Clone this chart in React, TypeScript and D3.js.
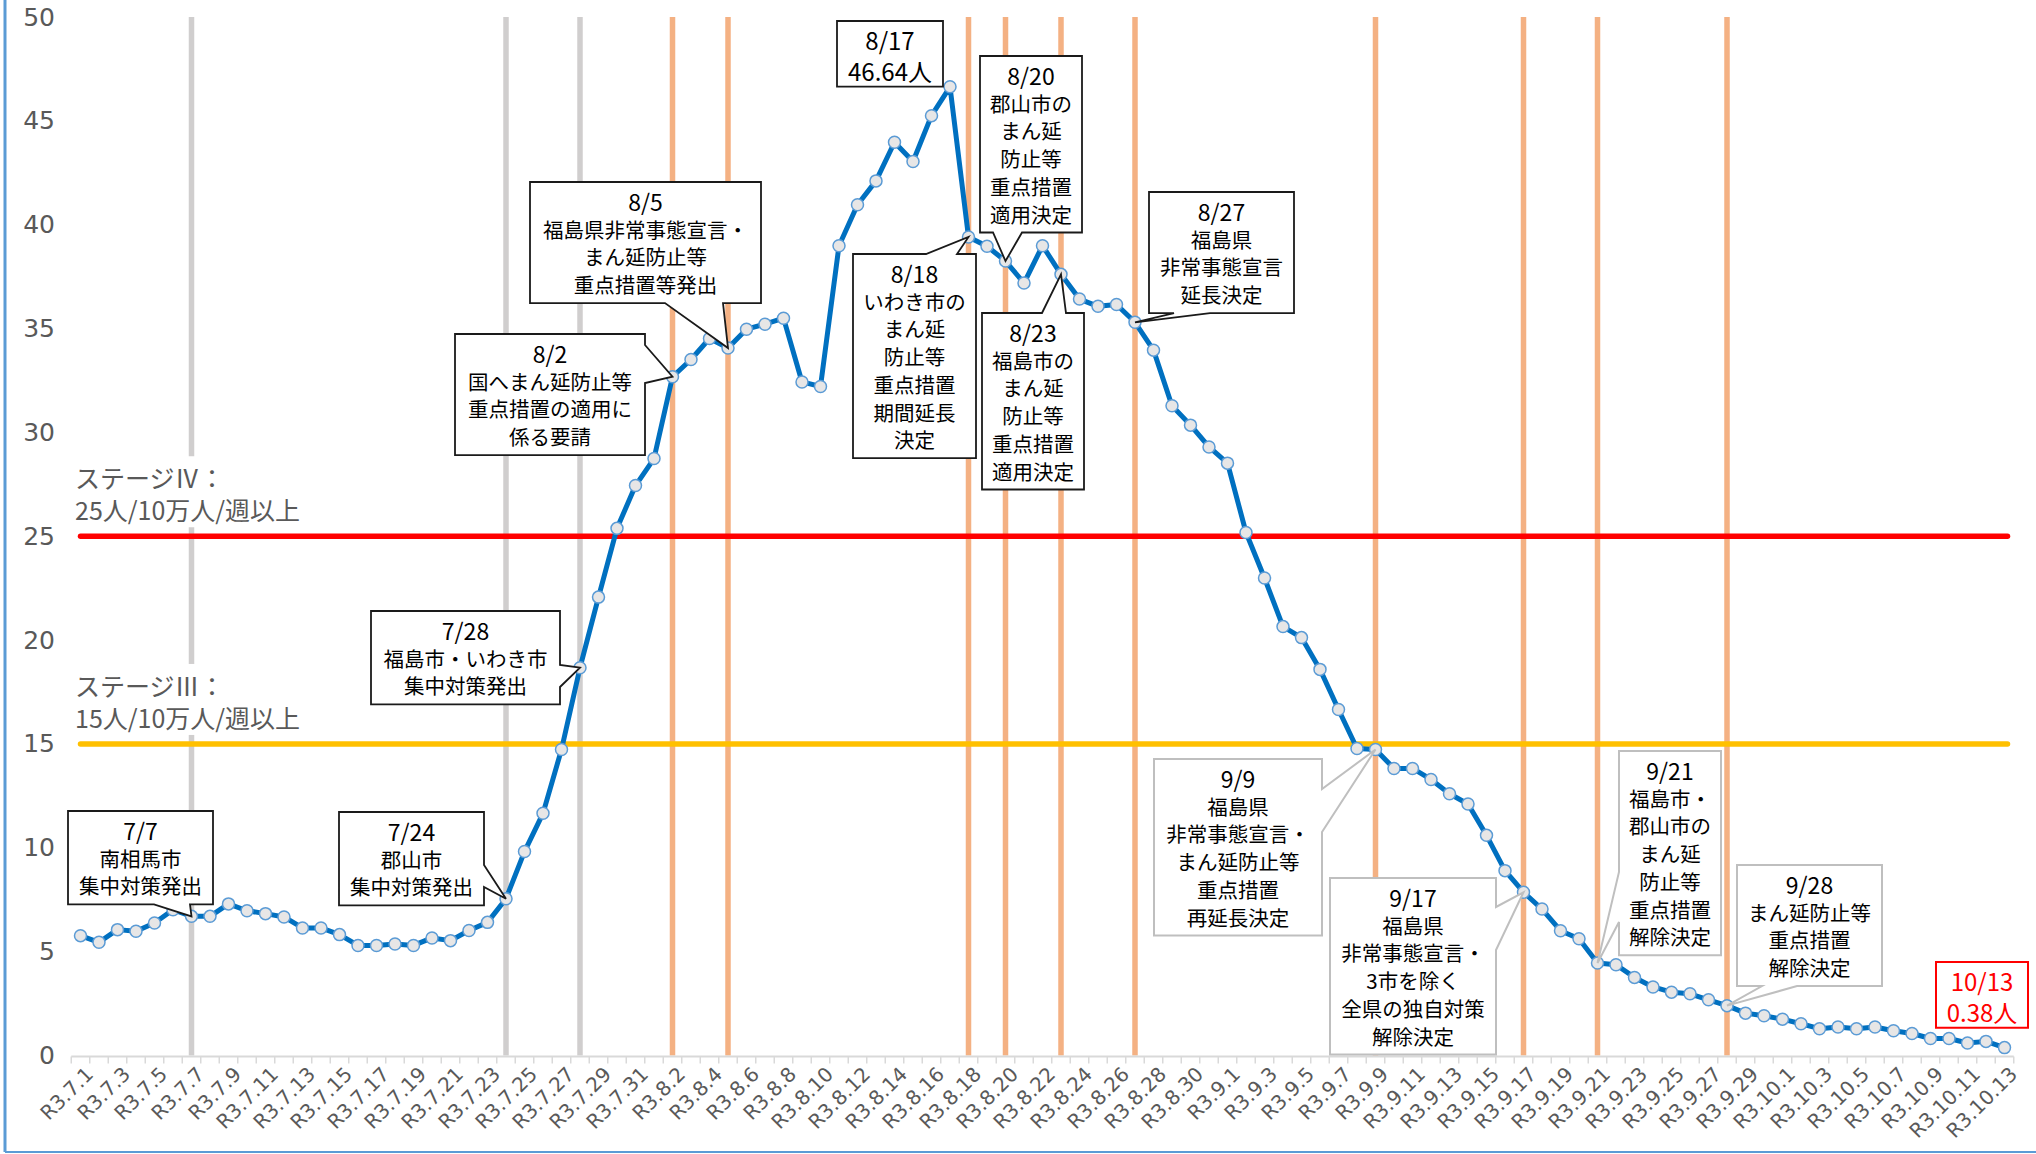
import React from 'react';
import * as d3 from 'd3';

// 7日間の人口10万人当たり新規陽性者数（福島県）
const dates = [
  'R3.7.1', 'R3.7.2', 'R3.7.3', 'R3.7.4', 'R3.7.5', 'R3.7.6', 'R3.7.7', 'R3.7.8', 'R3.7.9', 'R3.7.10',
  'R3.7.11', 'R3.7.12', 'R3.7.13', 'R3.7.14', 'R3.7.15', 'R3.7.16', 'R3.7.17', 'R3.7.18', 'R3.7.19', 'R3.7.20',
  'R3.7.21', 'R3.7.22', 'R3.7.23', 'R3.7.24', 'R3.7.25', 'R3.7.26', 'R3.7.27', 'R3.7.28', 'R3.7.29', 'R3.7.30',
  'R3.7.31', 'R3.8.1', 'R3.8.2', 'R3.8.3', 'R3.8.4', 'R3.8.5', 'R3.8.6', 'R3.8.7', 'R3.8.8', 'R3.8.9',
  'R3.8.10', 'R3.8.11', 'R3.8.12', 'R3.8.13', 'R3.8.14', 'R3.8.15', 'R3.8.16', 'R3.8.17', 'R3.8.18', 'R3.8.19',
  'R3.8.20', 'R3.8.21', 'R3.8.22', 'R3.8.23', 'R3.8.24', 'R3.8.25', 'R3.8.26', 'R3.8.27', 'R3.8.28', 'R3.8.29',
  'R3.8.30', 'R3.8.31', 'R3.9.1', 'R3.9.2', 'R3.9.3', 'R3.9.4', 'R3.9.5', 'R3.9.6', 'R3.9.7', 'R3.9.8',
  'R3.9.9', 'R3.9.10', 'R3.9.11', 'R3.9.12', 'R3.9.13', 'R3.9.14', 'R3.9.15', 'R3.9.16', 'R3.9.17', 'R3.9.18',
  'R3.9.19', 'R3.9.20', 'R3.9.21', 'R3.9.22', 'R3.9.23', 'R3.9.24', 'R3.9.25', 'R3.9.26', 'R3.9.27', 'R3.9.28',
  'R3.9.29', 'R3.9.30', 'R3.10.1', 'R3.10.2', 'R3.10.3', 'R3.10.4', 'R3.10.5', 'R3.10.6', 'R3.10.7', 'R3.10.8',
  'R3.10.9', 'R3.10.10', 'R3.10.11', 'R3.10.12', 'R3.10.13'
];

const values = [
  5.77, 5.45, 6.06, 5.98, 6.38, 7.02, 6.70, 6.70, 7.30, 6.97,
  6.83, 6.67, 6.14, 6.14, 5.82, 5.30, 5.30, 5.37, 5.30, 5.66,
  5.53, 6.02, 6.41, 7.55, 9.82, 11.66, 14.73, 18.67, 22.07, 25.38,
  27.44, 28.74, 32.68, 33.51, 34.52, 34.06, 34.97, 35.21, 35.50, 32.43,
  32.21, 38.99, 40.96, 42.11, 43.97, 43.04, 45.25, 46.64, 39.41, 38.96,
  38.25, 37.19, 38.99, 37.61, 36.42, 36.07, 36.16, 35.30, 33.96, 31.28,
  30.35, 29.30, 28.52, 25.18, 22.99, 20.65, 20.12, 18.59, 16.66, 14.78,
  14.73, 13.82, 13.82, 13.29, 12.60, 12.11, 10.60, 8.90, 7.86, 7.05,
  6.01, 5.62, 4.45, 4.37, 3.76, 3.30, 3.05, 2.97, 2.68, 2.40,
  2.04, 1.91, 1.75, 1.53, 1.29, 1.37, 1.29, 1.37, 1.19, 1.06,
  0.82, 0.82, 0.60, 0.68, 0.38
];

const yTicks = [0, 5, 10, 15, 20, 25, 30, 35, 40, 45, 50];

// 市の集中対策（灰）と県・国の措置（橙）
const cityEvents = ['R3.7.7', 'R3.7.24', 'R3.7.28'];
const prefEvents = ['R3.8.2', 'R3.8.5', 'R3.8.18', 'R3.8.20', 'R3.8.23', 'R3.8.27', 'R3.9.9', 'R3.9.17', 'R3.9.21', 'R3.9.28'];

const stageValues = [25, 15];
const stageNames = ['ステージⅣ：', 'ステージⅢ：'];
const stageCriteria = ['25人/10万人/週以上', '15人/10万人/週以上'];
const stageColors = ['#FF0000', '#FFC000'];

// 吹き出し：本文と配置（box = [左, 上, 右]、wedge = 辺上の根元の範囲）
type Side = 'top' | 'right' | 'bottom' | 'left' | null;
interface Callout {
  date: string;
  lines: string[];
  tone: 'black' | 'gray' | 'red';
  box: [number, number, number];
  side: Side;
  wedge?: [number, number];
  big?: boolean;
}

const callouts: Callout[] = [
  { date: 'R3.7.7', lines: ['7/7', '南相馬市', '集中対策発出'], tone: 'black', box: [68, 811, 213], side: 'bottom', wedge: [154, 190] },
  { date: 'R3.7.24', lines: ['7/24', '郡山市', '集中対策発出'], tone: 'black', box: [339, 812, 484], side: 'right', wedge: [865, 887] },
  { date: 'R3.7.28', lines: ['7/28', '福島市・いわき市', '集中対策発出'], tone: 'black', box: [371, 611, 560], side: 'right', wedge: [665, 687] },
  { date: 'R3.8.2', lines: ['8/2', '国へまん延防止等', '重点措置の適用に', '係る要請'], tone: 'black', box: [455, 334, 645], side: 'right', wedge: [345, 383] },
  { date: 'R3.8.5', lines: ['8/5', '福島県非常事態宣言・', 'まん延防止等', '重点措置等発出'], tone: 'black', box: [530, 182, 761], side: 'bottom', wedge: [665, 723] },
  { date: 'R3.8.17', lines: ['8/17', '46.64人'], tone: 'black', box: [837, 21, 943], side: null, big: true },
  { date: 'R3.8.18', lines: ['8/18', 'いわき市の', 'まん延', '防止等', '重点措置', '期間延長', '決定'], tone: 'black', box: [853, 254, 976], side: 'top', wedge: [926, 957] },
  { date: 'R3.8.20', lines: ['8/20', '郡山市の', 'まん延', '防止等', '重点措置', '適用決定'], tone: 'black', box: [980, 56, 1082], side: 'bottom', wedge: [993, 1022] },
  { date: 'R3.8.23', lines: ['8/23', '福島市の', 'まん延', '防止等', '重点措置', '適用決定'], tone: 'black', box: [982, 313, 1084], side: 'top', wedge: [1042, 1066] },
  { date: 'R3.8.27', lines: ['8/27', '福島県', '非常事態宣言', '延長決定'], tone: 'black', box: [1149, 192, 1294], side: 'bottom', wedge: [1174, 1210] },
  { date: 'R3.9.9', lines: ['9/9', '福島県', '非常事態宣言・', 'まん延防止等', '重点措置', '再延長決定'], tone: 'gray', box: [1154, 759, 1322], side: 'right', wedge: [789, 832] },
  { date: 'R3.9.17', lines: ['9/17', '福島県', '非常事態宣言・', '3市を除く', '全県の独自対策', '解除決定'], tone: 'gray', box: [1330, 878, 1496], side: 'right', wedge: [907, 950] },
  { date: 'R3.9.21', lines: ['9/21', '福島市・', '郡山市の', 'まん延', '防止等', '重点措置', '解除決定'], tone: 'gray', box: [1619, 751, 1721], side: 'left', wedge: [872, 922] },
  { date: 'R3.9.28', lines: ['9/28', 'まん延防止等', '重点措置', '解除決定'], tone: 'gray', box: [1737, 865, 1882], side: 'bottom', wedge: [1762, 1797] },
  { date: 'R3.10.13', lines: ['10/13', '0.38人'], tone: 'red', box: [1936, 962, 2028], side: null, big: true }
];

const W = 2036;
const H = 1154;
const LINE_H = 27.7;
const PAD = 19;
const JP = '"Noto Sans CJK JP", "Noto Sans", sans-serif';
const NUM = '"DejaVu Sans", "Noto Sans", sans-serif';

const toneStroke = { black: '#1a1a1a', gray: '#BFBFBF', red: '#FF0000' };

function calloutPath(
  x0: number, y0: number, x1: number, y1: number,
  side: Side, wedge: [number, number] | undefined, tip: [number, number]
) {
  const p = d3.path();
  p.moveTo(x0, y0);
  if (side === 'top' && wedge) {
    p.lineTo(wedge[0], y0); p.lineTo(tip[0], tip[1]); p.lineTo(wedge[1], y0);
  }
  p.lineTo(x1, y0);
  if (side === 'right' && wedge) {
    p.lineTo(x1, wedge[0]); p.lineTo(tip[0], tip[1]); p.lineTo(x1, wedge[1]);
  }
  p.lineTo(x1, y1);
  if (side === 'bottom' && wedge) {
    p.lineTo(wedge[1], y1); p.lineTo(tip[0], tip[1]); p.lineTo(wedge[0], y1);
  }
  p.lineTo(x0, y1);
  if (side === 'left' && wedge) {
    p.lineTo(x0, wedge[1]); p.lineTo(tip[0], tip[1]); p.lineTo(x0, wedge[0]);
  }
  p.closePath();
  return p.toString();
}

export default function App() {
  const x = d3.scalePoint<string>().domain(dates).range([80.5, 2004.5]);
  const y = d3.scaleLinear().domain([0, 50]).range([1055.5, 17]);
  const step = x.step();
  const baseY = y(0);

  const line = d3.line<number>()
    .x((_, i) => x(dates[i])!)
    .y(d => y(d));

  const xFirst = x(dates[0])!;
  const xLast = x(dates[dates.length - 1])!;

  return (
    <svg
      width={W}
      height={H}
      viewBox={`0 0 ${W} ${H}`}
      style={{ position: 'absolute', left: 0, top: 0, background: '#fff' }}
    >
      <rect x={0} y={0} width={W} height={H} fill="#fff" />

      {/* event lines */}
      {cityEvents.map(d => (
        <line key={d} x1={x(d)} x2={x(d)} y1={y(50)} y2={baseY} stroke="#D0CECE" strokeWidth={5.5} />
      ))}
      {prefEvents.map(d => (
        <line key={d} x1={x(d)} x2={x(d)} y1={y(50)} y2={baseY} stroke="#F4B183" strokeWidth={5.5} />
      ))}

      {/* stage labels with white backing */}
      {stageValues.map((v, i) => (
        <g key={v}>
          <rect x={68} y={y(v) - 80} width={252} height={71} fill="#fff" />
          <text fontFamily={JP} fontSize={25} fill="#595959" dominantBaseline="central">
            <tspan x={75} y={y(v) - 59}>{stageNames[i]}</tspan>
            <tspan x={75} y={y(v) - 27}>{stageCriteria[i]}</tspan>
          </text>
        </g>
      ))}

      {/* threshold lines */}
      {stageValues.map((v, i) => (
        <line key={v} x1={xFirst} x2={xLast + 3} y1={y(v)} y2={y(v)}
          stroke={stageColors[i]} strokeWidth={5.5} strokeLinecap="round" />
      ))}

      {/* x axis */}
      <line x1={xFirst - step / 2} x2={xLast + step / 2} y1={baseY + 1} y2={baseY + 1} stroke="#D9D9D9" strokeWidth={2} />
      {d3.range(dates.length + 1).map(i => {
        const tx = xFirst - step / 2 + i * step;
        return <line key={i} x1={tx} x2={tx} y1={baseY + 1} y2={baseY + 8} stroke="#D9D9D9" strokeWidth={1.5} />;
      })}
      {dates.filter((_, i) => i % 2 === 0).map(d => (
        <text
          key={d}
          transform={`translate(${x(d)! + 9},${baseY + 15}) rotate(-45)`}
          textAnchor="end"
          dominantBaseline="central"
          fontFamily={NUM}
          fontSize={20}
          fill="#595959"
        >
          {d}
        </text>
      ))}

      {/* y labels */}
      {yTicks.map(t => (
        <text key={t} x={55} y={y(t)} textAnchor="end" dominantBaseline="central"
          fontFamily={NUM} fontSize={25} fill="#595959">
          {t}
        </text>
      ))}

      {/* data line */}
      <path d={line(values) ?? ''} fill="none" stroke="#0070C0" strokeWidth={5} strokeLinejoin="round" />
      {values.map((v, i) => (
        <circle key={i} cx={x(dates[i])} cy={y(v)} r={6} fill="#E7E6E6" stroke="#5B9BD5" strokeWidth={1.5} />
      ))}

      {/* callouts */}
      {callouts.map(c => {
        const idx = dates.indexOf(c.date);
        const tip: [number, number] = [x(c.date)!, y(values[idx])];
        const [x0, y0, x1] = c.box;
        const y1 = y0 + PAD * 2 + LINE_H * (c.lines.length - 1);
        const cx = (x0 + x1) / 2;
        const color = c.tone === 'red' ? '#FF0000' : '#000';
        return (
          <g key={c.date}>
            <path
              d={calloutPath(x0, y0, x1, y1, c.side, c.wedge, tip)}
              fill="#fff"
              stroke={toneStroke[c.tone]}
              strokeWidth={c.tone === 'black' ? 1.8 : 2}
              strokeLinejoin="miter"
            />
            <text textAnchor="middle" dominantBaseline="central" fontFamily={JP} fill={color}>
              {c.lines.map((t, li) => (
                <tspan
                  key={li}
                  x={cx}
                  y={y0 + PAD + LINE_H * li + (c.big ? (li === 0 ? -1 : 2) : 0)}
                  fontSize={c.big ? 24 : li === 0 ? 23 : 20.5}
                >
                  {t}
                </tspan>
              ))}
            </text>
          </g>
        );
      })}

      {/* chart frame edges */}
      <line x1={5} x2={5} y1={0} y2={1152} stroke="#5B9BD5" strokeWidth={3} />
      <line x1={5} x2={W} y1={1152} y2={1152} stroke="#5B9BD5" strokeWidth={2} />
    </svg>
  );
}
